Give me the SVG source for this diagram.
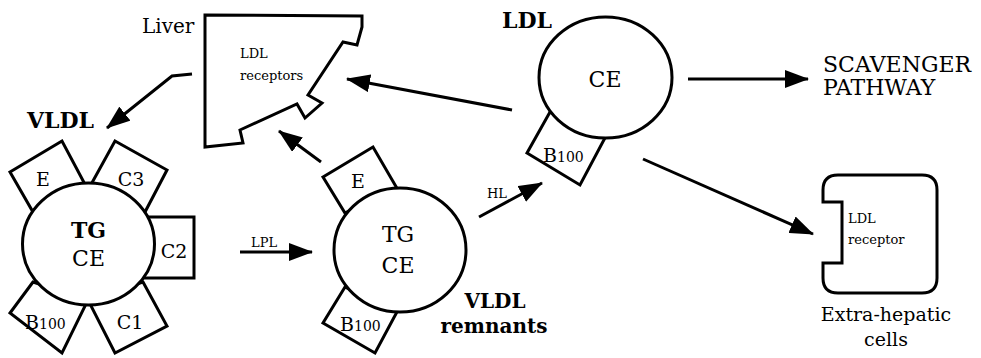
<svg xmlns="http://www.w3.org/2000/svg" width="981" height="358" viewBox="0 0 981 358">
<defs>
<style>
.ln{fill:none;stroke:#000;stroke-width:3;}
.sh{fill:#fff;stroke:#000;stroke-width:3;stroke-linejoin:miter;}
.t{font-family:'DejaVu Serif',serif;fill:#000;}
.b{font-weight:bold;}
.s13{font-size:13px;}
.s20{font-size:20px;}
.s22{font-size:19px;}
.s24{font-size:22px;}
.s26{font-size:22px;}
.sub{font-size:14px;}
</style>
<marker id="ah" markerUnits="userSpaceOnUse" markerWidth="24" markerHeight="18" viewBox="0 0 24 18" refX="23" refY="9" orient="auto">
<path d="M0,0 L24,9 L0,18 Z" fill="#000"/>
</marker>
</defs>
<rect width="981" height="358" fill="#fff"/>

<g id="liver">
<polygon class="sh" points="205,15 362,16 362,27 357,45 343,42 308,95 322,103 305,118 297,104 240,130 243,143 205,147"/>
<text class="t s20" x="142" y="33">Liver</text>
<text class="t s13" x="240" y="58">LDL</text>
<text class="t s13" x="240" y="80">receptors</text>
</g>

<g id="vldl">
<polygon class="sh" points="62,141 10,172 33,212 88,190"/>
<polygon class="sh" points="115,141 167,170 145,212 88,190"/>
<rect class="sh" x="130" y="217" width="64" height="61"/>
<polygon class="sh" points="33,282 10,313 62,353 88,300"/>
<polygon class="sh" points="143,282 167,326 115,353 88,300"/>
<ellipse class="sh" cx="88.5" cy="244" rx="66" ry="61"/>
<text class="t b s26" x="88.5" y="238" text-anchor="middle">TG</text>
<text class="t s26" x="88.5" y="266" text-anchor="middle">CE</text>
<text class="t s22" x="43" y="186" text-anchor="middle">E</text>
<text class="t s22" x="131" y="186" text-anchor="middle">C3</text>
<text class="t s22" x="174" y="258" text-anchor="middle">C2</text>
<text class="t s22" x="25" y="329">B<tspan class="sub">100</tspan></text>
<text class="t s22" x="130" y="329" text-anchor="middle">C1</text>
<text class="t b s24" x="27" y="128">VLDL</text>
</g>

<g id="remnant">
<polygon class="sh" points="323,177 373,147 398,190 345,213"/>
<polygon class="sh" points="345,287 323,323 375,353 398,310"/>
<ellipse class="sh" cx="400" cy="250" rx="66" ry="62"/>
<text class="t s26" x="398" y="242" text-anchor="middle">TG</text>
<text class="t s26" x="398" y="273" text-anchor="middle">CE</text>
<text class="t s22" x="358" y="188" text-anchor="middle">E</text>
<text class="t s22" x="340" y="331">B<tspan class="sub">100</tspan></text>
<text class="t b s20" x="495" y="308" text-anchor="middle" font-size="21">VLDL</text>
<text class="t b s20" x="494" y="333" text-anchor="middle">remnants</text>
</g>

<g id="ldl">
<polygon class="sh" points="550,112 527,153 580,185 606,136"/>
<ellipse class="sh" cx="605.5" cy="77.5" rx="66.5" ry="60.5"/>
<text class="t s24" x="605" y="87" text-anchor="middle">CE</text>
<text class="t s22" x="543" y="162">B<tspan class="sub">100</tspan></text>
<text class="t b s24" x="502" y="28">LDL</text>
</g>

<g id="scavenger">
<text class="t s24" x="823" y="72">SCAVENGER</text>
<text class="t s24" x="823" y="95">PATHWAY</text>
</g>

<g id="extrahepatic">
<path class="sh" d="M838,175 H922 Q937,175 937,190 V278 Q937,293 922,293 H838 Q823,293 823,278 V263 H842 V202 H823 V190 Q823,175 838,175 Z"/>
<text class="t s13" x="848" y="223">LDL</text>
<text class="t s13" x="848" y="244">receptor</text>
<text class="t s22" x="886" y="321" text-anchor="middle">Extra-hepatic</text>
<text class="t s22" x="886" y="346" text-anchor="middle">cells</text>
</g>

<g id="connectors">
<polyline class="ln" points="192,74 172,76 107,128" marker-end="url(#ah)"/>
<line class="ln" x1="321" y1="162" x2="279" y2="131" marker-end="url(#ah)"/>
<line class="ln" x1="512" y1="110" x2="347" y2="79" marker-end="url(#ah)"/>
<line class="ln" x1="240" y1="252" x2="312" y2="252" marker-end="url(#ah)"/>
<text class="t s13" x="251" y="247" font-size="12">LPL</text>
<line class="ln" x1="479" y1="217" x2="542" y2="183" marker-end="url(#ah)"/>
<text class="t s13" x="487" y="198" font-size="12">HL</text>
<line class="ln" x1="688" y1="79" x2="808" y2="79" marker-end="url(#ah)"/>
<line class="ln" x1="643" y1="159" x2="813" y2="234" marker-end="url(#ah)"/>
</g>
</svg>
